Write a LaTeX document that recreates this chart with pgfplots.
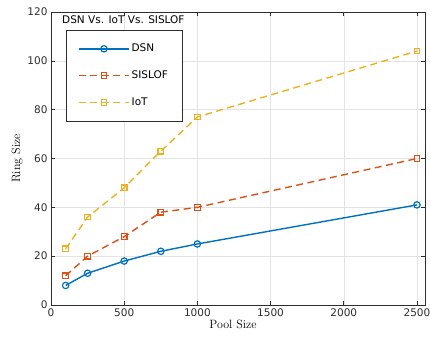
\documentclass[border=0pt]{standalone}
\usepackage{fontspec}
\setmainfont{Latin Modern Roman}
\setsansfont{DejaVu Sans}
\usepackage{pgfplots}
\pgfplotsset{compat=1.18}
\definecolor{mblue}{RGB}{0,114,189}
\definecolor{morange}{RGB}{217,83,25}
\definecolor{myellow}{RGB}{237,177,32}
\definecolor{axgray}{RGB}{45,45,45}
\begin{document}
\begin{tikzpicture}
\path[use as bounding box] (-51pt,-37pt) rectangle (379pt,305pt);
\begin{axis}[
  at={(0pt,0pt)}, anchor=south west,
  scale only axis,
  width=374pt, height=293pt,
  xmin=0, xmax=2555, ymin=0, ymax=120,
  xtick={0,500,...,2500}, ytick={0,20,...,120},
  tick align=inside,
  major tick length=4pt,
  grid=major,
  grid style={gray!22, line width=0.5pt},
  axis line style={axgray, line width=0.7pt},
  tick style={axgray, line width=0.6pt},
  ticklabel style={font=\sffamily\fontsize{10.5}{12}\selectfont, text=axgray},
  /pgf/number format/assume math mode=true,
  /pgf/number format/1000 sep={},
  xlabel={Pool Size}, ylabel={Ring Size},
  label style={font=\fontsize{12}{14}\selectfont, text=black},
  xlabel style={yshift=3pt, xshift=-5pt},
  ylabel style={yshift=-2pt},
  legend cell align=left,
  legend style={at={(rel axis cs:0.04,0.939)}, anchor=north west,
    draw=axgray, line width=0.6pt, font=\sffamily\fontsize{10.5}{12}\selectfont,
    row sep=13.5pt, inner xsep=12pt, inner ysep=12pt,
    column 2/.style={text width=63pt}},
  legend image code/.code={\draw[mark repeat=2,mark phase=2] plot coordinates {(0pt,0pt) (25pt,0pt) (50pt,0pt)};},
]
\addplot[mblue, line width=1.4pt, mark=o, mark size=3.2pt, mark options={solid, line width=1.2pt}] coordinates {
(100,8) (250,13) (500,18) (750,22) (1000,25) (2500,41)};
\addlegendentry{DSN}
\addplot[morange, line width=1.4pt, dash pattern=on 7pt off 4.5pt, mark=square, mark size=2.8pt, mark options={solid, line width=1.2pt}] coordinates {
(100,12) (250,20) (500,28) (750,38) (1000,40) (2500,60)};
\addlegendentry{SISLOF}
\addplot[myellow, line width=1.4pt, dash pattern=on 7pt off 4.5pt, mark=square, mark size=2.8pt, mark options={solid, line width=1.2pt}] coordinates {
(100,23) (250,36) (500,48) (750,63) (1000,77) (2500,104)};
\addlegendentry{IoT}
\node[anchor=north west, font=\sffamily\fontsize{10.5}{12}\selectfont, text=black, inner sep=0pt] at ([xshift=11pt,yshift=-3.5pt]rel axis cs:0,1) {DSN Vs. IoT Vs. SISLOF};
\end{axis}
\end{tikzpicture}
\end{document}
